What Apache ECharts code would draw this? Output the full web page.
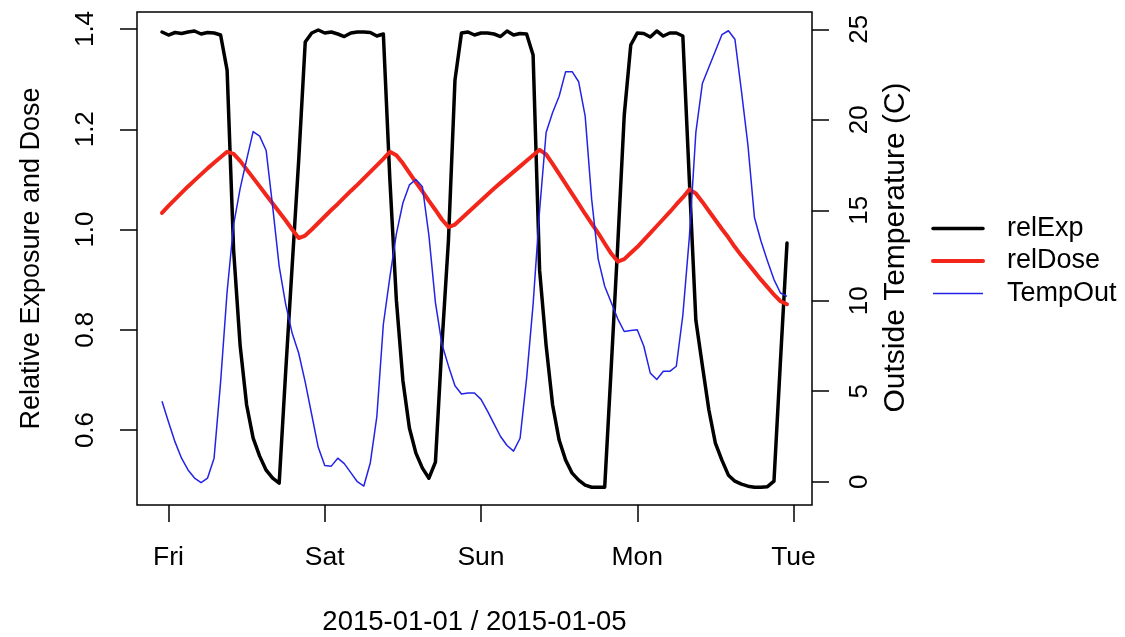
<!DOCTYPE html>
<html>
<head>
<meta charset="utf-8">
<script src="https://cdn.jsdelivr.net/npm/echarts@6/dist/echarts.min.js"></script>
<style>
  html, body { margin: 0; padding: 0; background: #fff; }
  #chart { width: 1125px; height: 637px; }
</style>
</head>
<body>
<div id="chart"></div>
<script>
// Hourly readings, first sample one hour before Friday 00:00
const firstHour = -1;

// Relative exposure (left axis)
const relExp = [
  1.394, 1.388, 1.393, 1.391, 1.394, 1.396, 1.390, 1.393, 1.392, 1.388,
  1.318, 0.959, 0.769, 0.650, 0.584, 0.548, 0.520, 0.504, 0.494, 0.717,
  0.929, 1.139, 1.374, 1.392, 1.398, 1.392, 1.394, 1.390, 1.385, 1.392,
  1.394, 1.394, 1.393, 1.386, 1.390, 1.100, 0.859, 0.699, 0.604, 0.554,
  0.524, 0.504, 0.536, 0.771, 0.979, 1.298, 1.392, 1.394, 1.388, 1.392,
  1.392, 1.390, 1.385, 1.396, 1.388, 1.391, 1.390, 1.348, 0.919, 0.769,
  0.650, 0.580, 0.540, 0.514, 0.500, 0.490, 0.486, 0.486, 0.486, 0.725,
  0.969, 1.228, 1.368, 1.392, 1.391, 1.384, 1.396, 1.386, 1.392, 1.392,
  1.386, 1.099, 0.819, 0.729, 0.640, 0.574, 0.540, 0.510, 0.498, 0.492,
  0.488, 0.486, 0.486, 0.487, 0.498, 0.739, 0.973
];

// Relative dose (left axis)
const relDose = [
  1.033, 1.047, 1.060, 1.073, 1.086, 1.098, 1.110, 1.122, 1.133, 1.144,
  1.155, 1.151, 1.137, 1.120, 1.103, 1.086, 1.069, 1.052, 1.035, 1.018,
  1.000, 0.983, 0.988, 1.000, 1.013, 1.026, 1.039, 1.051, 1.064, 1.077,
  1.089, 1.102, 1.115, 1.128, 1.141, 1.155, 1.148, 1.132, 1.113, 1.094,
  1.076, 1.057, 1.039, 1.020, 1.005, 1.010, 1.022, 1.034, 1.046, 1.058,
  1.070, 1.082, 1.093, 1.104, 1.115, 1.126, 1.137, 1.148, 1.159, 1.150,
  1.131, 1.111, 1.091, 1.071, 1.051, 1.031, 1.012, 0.993, 0.972, 0.952,
  0.936, 0.941, 0.953, 0.965, 0.979, 0.993, 1.007, 1.021, 1.035, 1.050,
  1.064, 1.080, 1.072, 1.055, 1.037, 1.019, 1.001, 0.984, 0.965, 0.948,
  0.932, 0.916, 0.900, 0.885, 0.870, 0.857, 0.851
];

// Outside temperature in degrees C (right axis)
const tempOut = [
  4.45, 3.3, 2.2, 1.3, 0.65, 0.2, -0.05, 0.2, 1.3, 5.5,
  10.5, 14.2, 16.2, 17.8, 19.35, 19.1, 18.3, 15.2, 11.9, 9.8,
  8.2, 7.1, 5.5, 3.7, 1.9, 0.9, 0.86, 1.3, 1.0, 0.5,
  0.0, -0.24, 1.05, 3.6, 8.7, 11.3, 13.7, 15.4, 16.4, 16.7,
  16.3, 13.6, 9.9, 7.6, 6.4, 5.3, 4.85, 4.9, 4.9, 4.55,
  3.9, 3.2, 2.5, 2.0, 1.69, 2.4, 5.7, 9.8, 15.0, 19.3,
  20.4, 21.3, 22.66, 22.66, 22.1, 20.2, 15.6, 12.3, 10.8, 9.9,
  9.0, 8.3, 8.35, 8.4, 7.5, 6.0, 5.65, 6.1, 6.1, 6.38,
  9.2, 13.5, 19.3, 22.0, 22.9, 23.8, 24.7, 24.92, 24.45, 21.6,
  18.6, 14.6, 13.3, 12.2, 11.17, 10.43, 10.24
];

// Axis ticks and labels
const dayTicks = [0, 24, 48, 72, 96];
const dayLabels = ['Fri', 'Sat', 'Sun', 'Mon', 'Tue'];
const leftTicks = [0.6, 0.8, 1.0, 1.2, 1.4];
const rightTicks = [0, 5, 10, 15, 20, 25];
const seriesNames = ['relExp', 'relDose', 'TempOut'];

const pairs = arr => arr.map((v, i) => [firstHour + i, v]);

const FONT = "'Liberation Sans', Arial, Helvetica, sans-serif";
const tickStyle = { color: '#000', width: 1.5 };
const BLACK = '#000', RED = '#f2261a', BLUE = '#2323e6';

const chart = echarts.init(document.getElementById('chart'), null, { renderer: 'canvas' });

chart.setOption({
  animation: false,
  backgroundColor: '#fff',
  textStyle: { fontFamily: FONT, color: '#000' },
  grid: {
    left: 137, right: 313, top: 12, bottom: 132,
    outerBoundsMode: 'none',
    containLabel: false,
    show: true, borderColor: '#000', borderWidth: 1.5, backgroundColor: 'transparent'
  },
  xAxis: {
    type: 'value',
    min: -4.84, max: 98.84,
    name: '2015-01-01 / 2015-01-05',
    nameLocation: 'middle',
    nameGap: 103,
    nameTextStyle: { fontSize: 27.5, color: '#000', fontFamily: FONT },
    axisLine: { show: false, onZero: false },
    splitLine: { show: false },
    axisTick: { show: true, inside: false, length: 17, lineStyle: tickStyle, customValues: dayTicks },
    axisLabel: {
      customValues: dayTicks,
      margin: 39,
      fontSize: 26.5, color: '#000', fontFamily: FONT,
      formatter: v => dayLabels[dayTicks.indexOf(v)]
    }
  },
  yAxis: [
    {
      type: 'value',
      position: 'left',
      min: 0.4505, max: 1.4339,
      name: 'Relative Exposure and Dose',
      nameLocation: 'middle',
      nameRotate: 90,
      nameGap: 92,
      nameTextStyle: { fontSize: 27, color: '#000', fontFamily: FONT },
      axisLine: { show: false, onZero: false },
      splitLine: { show: false },
      axisTick: { show: true, inside: false, length: 17, lineStyle: tickStyle, customValues: leftTicks },
      axisLabel: {
        customValues: leftTicks,
        rotate: 90,
        margin: 38,
        fontSize: 26, color: '#000', fontFamily: FONT,
        formatter: v => v.toFixed(1)
      }
    },
    {
      type: 'value',
      position: 'right',
      min: -1.287, max: 25.956,
      name: 'Outside Temperature (C)',
      nameLocation: 'middle',
      nameRotate: 90,
      nameGap: 69,
      nameTextStyle: { fontSize: 30, color: '#000', fontFamily: FONT, padding: [0, 0, 0, 22] },
      axisLine: { show: false, onZero: false },
      splitLine: { show: false },
      axisTick: { show: true, inside: false, length: 17, lineStyle: tickStyle, customValues: rightTicks },
      axisLabel: {
        customValues: rightTicks,
        rotate: 90,
        margin: 35,
        fontSize: 26, color: '#000', fontFamily: FONT,
        formatter: v => String(v)
      }
    }
  ],
  legend: {
    orient: 'vertical',
    left: 931, top: 215,
    padding: 0,
    itemWidth: 50, itemHeight: 26, itemGap: 5.5,
    itemStyle: { opacity: 0 },
    data: [
      { name: seriesNames[0], lineStyle: { color: BLACK, width: 3.5 } },
      { name: seriesNames[1], lineStyle: { color: RED, width: 4 } },
      { name: seriesNames[2], lineStyle: { color: BLUE, width: 1.5 } }
    ],
    textStyle: { fontSize: 27, color: '#000', fontFamily: FONT, padding: [0, 0, 0, 19] }
  },
  series: [
    {
      name: seriesNames[0], type: 'line', yAxisIndex: 0,
      data: pairs(relExp), symbol: 'none',
      lineStyle: { color: BLACK, width: 3.5, join: 'round', cap: 'round' },
      itemStyle: { color: BLACK }
    },
    {
      name: seriesNames[1], type: 'line', yAxisIndex: 0,
      data: pairs(relDose), symbol: 'none',
      lineStyle: { color: RED, width: 4, join: 'round', cap: 'round' },
      itemStyle: { color: RED }
    },
    {
      name: seriesNames[2], type: 'line', yAxisIndex: 1,
      data: pairs(tempOut), symbol: 'none',
      lineStyle: { color: BLUE, width: 1.5, join: 'round' },
      itemStyle: { color: BLUE }
    }
  ]
});
</script>
</body>
</html>
